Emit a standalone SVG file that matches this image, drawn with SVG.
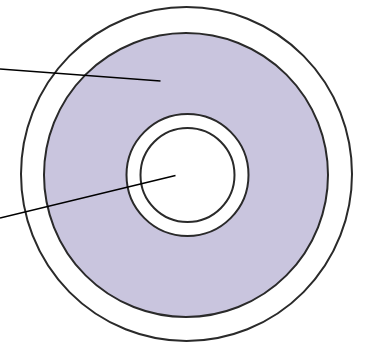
<svg xmlns="http://www.w3.org/2000/svg" width="365" height="344" viewBox="0 0 365 344">
<style>
.ring{stroke:#2a2a2a;stroke-width:2}
.lead{stroke:#000;stroke-width:1.6;fill:none}
</style>
<rect width="365" height="344" fill="#fff"/>
<g id="outer"><ellipse class="ring" cx="186.5" cy="174" rx="165.5" ry="167" fill="#fff"/></g>
<g id="disc"><circle class="ring" cx="186" cy="175" r="142" fill="#c9c5de"/></g>
<g id="hub"><circle class="ring" cx="187.5" cy="175" r="61" fill="#fff"/></g>
<g id="hole"><circle class="ring" cx="187.5" cy="175" r="47" fill="#fff"/></g>
<g id="connectors">
<line class="lead" x1="0" y1="69" x2="160.5" y2="81"/>
<line class="lead" x1="0" y1="218" x2="175.5" y2="175.5"/>
</g>
</svg>
